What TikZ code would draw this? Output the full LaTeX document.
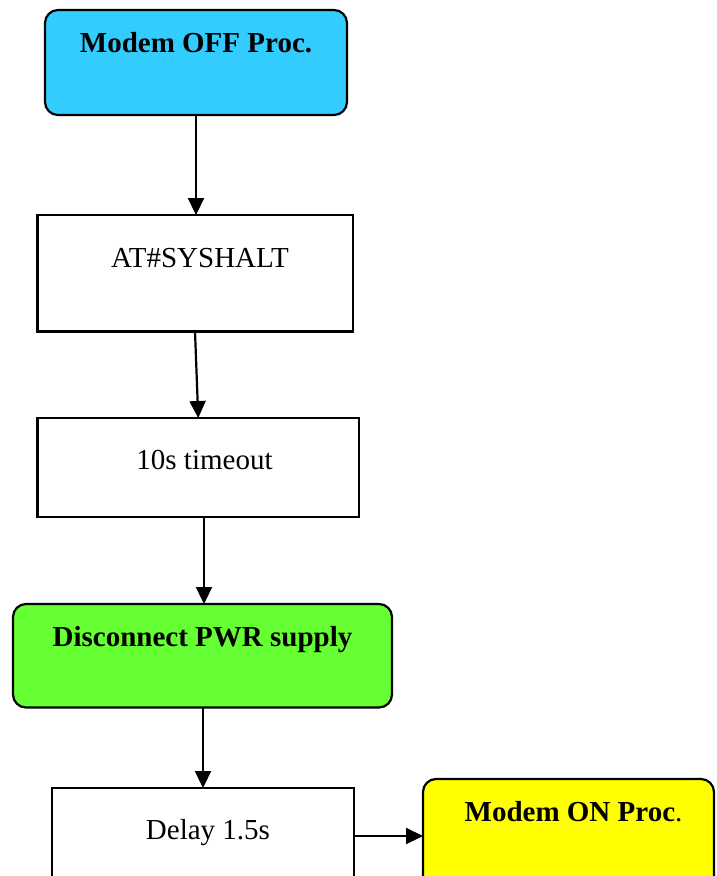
\documentclass[tikz,border=0pt]{standalone}
\usepackage{fontspec}
\setmainfont{Liberation Serif}
\usetikzlibrary{arrows.meta}
\definecolor{boxcyan}{HTML}{33CCFF}
\definecolor{boxgreen}{HTML}{66FF33}
\definecolor{boxyellow}{HTML}{FFFF00}
\tikzset{
  plainbox/.style={draw=black, line width=2.2pt, fill=white, inner sep=0pt, outer sep=0pt},
  roundbox/.style={plainbox, rounded corners=13pt},
  label text/.style={anchor=base, inner sep=0pt, font=\fontsize{29}{34}\selectfont},
  flow/.style={line width=2.2pt, -{Triangle[length=17pt,width=16pt]}}
}
\begin{document}
\begin{tikzpicture}[x=1pt,y=-1pt]
\useasboundingbox (0,0) rectangle (716,876);
\clip (0,0) rectangle (716,876);
% boxes
\node[roundbox, fill=boxcyan, minimum width=302pt, minimum height=105pt] (b1) at (196,62.5) {};
\node[plainbox, minimum width=315.5pt, minimum height=116.5pt] (b2) at (195.25,273.25) {};
\node[plainbox, minimum width=321.5pt, minimum height=99pt] (b3) at (198.25,467.5) {};
\node[roundbox, fill=boxgreen, minimum width=379pt, minimum height=103.5pt] (b4) at (202.5,655.75) {};
\node[plainbox, minimum width=302pt, minimum height=96pt] (b5) at (203,836) {};
\node[roundbox, fill=boxyellow, minimum width=291pt, minimum height=114pt] (b6) at (568.5,836) {};
% texts
\node[label text] (t1) at (196,52.7) {\textbf{Modem OFF Proc.}};
\node[label text] (t2) at (200,267) {AT\#SYSHALT};
\node[label text] (t3) at (204.5,469) {10s timeout};
\node[label text] (t4) at (202.5,646) {\textbf{Disconnect PWR supply}};
\node[label text] (t5) at (208,839) {Delay 1.5s};
\node[label text] (t6) at (573.5,821.7) {\textbf{Modem ON Proc}.};
% connectors
\draw[flow] (b1.south) -- ([xshift=0.75pt]b2.north);
\draw[flow] ([xshift=-0.25pt]b2.south) -- (b3.north);
\draw[flow] ([xshift=5.75pt]b3.south) -- ([xshift=1.5pt]b4.north);
\draw[flow] ([xshift=0.5pt]b4.south) -- (b5.north);
\draw[flow] (b5.east) -- (b6.west);
\end{tikzpicture}
\end{document}
